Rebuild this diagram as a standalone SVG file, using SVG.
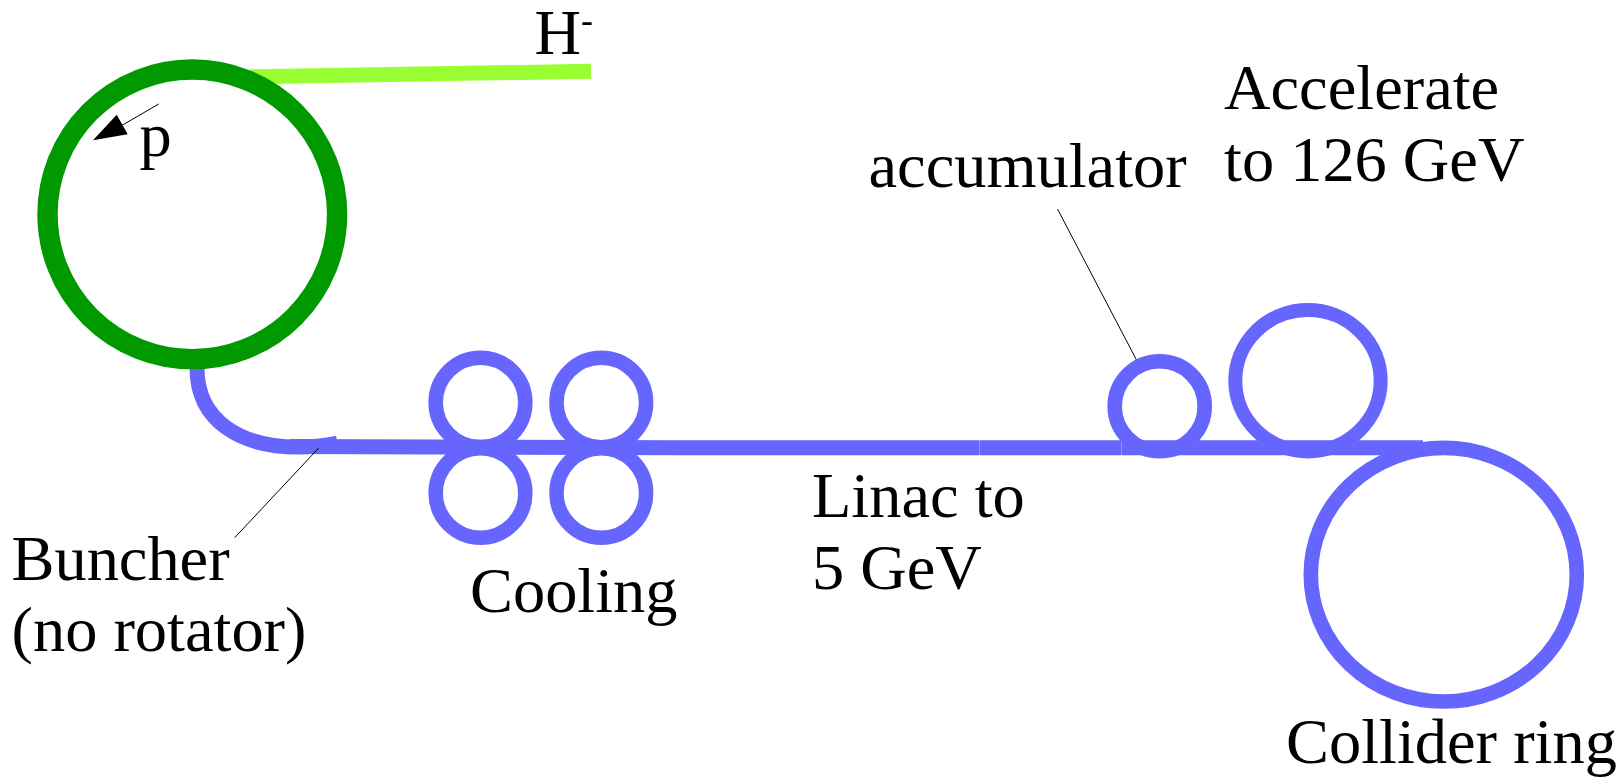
<svg xmlns="http://www.w3.org/2000/svg" width="1624" height="777" viewBox="0 0 1624 777">
<style>
text{font-family:"Liberation Serif","Times New Roman",serif;font-size:64.4px;fill:#000}
.b{fill:none;stroke:#6666ff;stroke-width:14.6}
.l{fill:none;stroke:#6666ff;stroke-width:15}
.t{fill:none;stroke:#000;stroke-width:1}
</style>
<rect width="1624" height="777" fill="#fff"/>
<g id="connectors">
<line id="h-line" x1="250" y1="76.800" x2="591" y2="71.300" stroke="#99ff33" stroke-width="15"/>
<path id="buncher-curve" class="l" d="M197,368C197,422 242,447 298,447C312,447 325,445.500 337.500,443"/>
<path class="l" d="M290,446.600L679.700,447.700L979.600,447.800"/>
<line class="l" x1="979.700" y1="447.800" x2="1121.400" y2="447.800"/>
<line class="l" x1="1121.500" y1="447.800" x2="1423" y2="447.800"/>
<line class="t" x1="318.700" y1="448" x2="234.700" y2="537.700"/>
<line class="t" x1="1057.500" y1="209" x2="1137.400" y2="361.700"/>
<line class="t" x1="158.700" y1="104" x2="120" y2="126.500"/>
<polygon id="p-arrowhead" points="93,140.300 116.700,114.700 127.700,134.300" fill="#000"/>
</g>
<g id="booster-ring"><circle cx="192.300" cy="214.300" r="144.800" fill="none" stroke="#009900" stroke-width="20.400"/></g>
<g id="cooling-1"><circle class="b" cx="480.500" cy="402.500" r="44.800"/></g>
<g id="cooling-2"><circle class="b" cx="601.300" cy="402.500" r="44.800"/></g>
<g id="cooling-3"><circle class="b" cx="480.500" cy="493" r="44.800"/></g>
<g id="cooling-4"><circle class="b" cx="601.300" cy="493" r="44.800"/></g>
<g id="accumulator-ring"><circle class="b" cx="1159.700" cy="406.300" r="45"/></g>
<g id="accelerate-ring"><ellipse class="b" cx="1308" cy="380.700" rx="72.700" ry="70.700" style="stroke-width:14"/></g>
<g id="collider-ring"><ellipse class="b" cx="1443.800" cy="574.700" rx="133" ry="126.800"/></g>
<g id="labels">
<text x="534.500" y="54">H<tspan font-size="35.500" dy="-22.400">-</tspan></text>
<text x="139.500" y="156">p</text>
<text x="1224" y="108.500">Accelerate</text>
<text x="1224" y="180.500">to 126 GeV</text>
<text x="868.500" y="186.500">accumulator</text>
<text x="11.500" y="579.500">Buncher</text>
<text x="11.500" y="650.500">(no rotator)</text>
<text x="470" y="611.500">Cooling</text>
<text x="812" y="516.500">Linac to</text>
<text x="812" y="588.500">5 GeV</text>
<text x="1286" y="762.500">Collider ring</text>
</g>
</svg>
